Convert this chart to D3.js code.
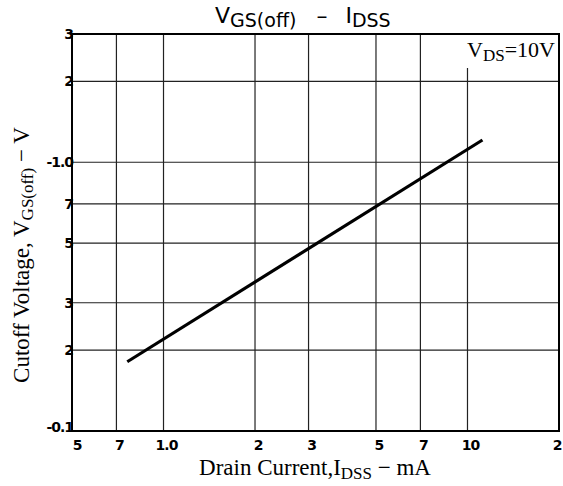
<!DOCTYPE html>
<html>
<head>
<meta charset="utf-8">
<script src="https://cdn.jsdelivr.net/npm/d3@7"></script>
<style>
  body { margin: 0; background: #fff; }
</style>
</head>
<body>
<div id="chart"></div>
<script>
// data
var xTicks = [0.5, 0.7, 1, 2, 3, 5, 7, 10, 20];
var xTickLabels = ["5", "7", "1.0", "2", "3", "5", "7", "10", "2"];
var yTicks = [0.1, 0.2, 0.3, 0.5, 0.7, 1, 2, 3];
var yTickLabels = ["-0.1", "2", "3", "5", "7", "-1.0", "2", "3"];
var idss = [0.76, 11.2];      // mA
var vgsOff = [0.181, 1.21];   // V

var width = 563, height = 486;
var pLeft = 72, pRight = 559, pTop = 34, pBottom = 431;

var svg = d3.select("#chart").append("svg")
    .attr("width", width)
    .attr("height", height);

var x = d3.scaleLog().domain([0.5, 20]).range([pLeft, pRight]);
var y = d3.scaleLog().domain([0.1, 3]).range([pBottom, pTop]);

// grid
svg.selectAll(".vgrid")
    .data(xTicks.slice(1, -1))
    .enter().append("line")
    .attr("x1", function(d) { return x(d); })
    .attr("x2", function(d) { return x(d); })
    .attr("y1", pTop).attr("y2", pBottom)
    .attr("stroke", "#222").attr("stroke-width", 1.2);

svg.selectAll(".hgrid")
    .data(yTicks.slice(1, -1))
    .enter().append("line")
    .attr("y1", function(d) { return y(d); })
    .attr("y2", function(d) { return y(d); })
    .attr("x1", pLeft).attr("x2", pRight)
    .attr("stroke", "#222").attr("stroke-width", 1.2);

// white box behind the condition label
svg.append("rect")
    .attr("x", 452).attr("y", pTop + 1)
    .attr("width", pRight - 453).attr("height", 33)
    .attr("fill", "#fff");

// frame
svg.append("rect")
    .attr("x", pLeft).attr("y", pTop)
    .attr("width", pRight - pLeft).attr("height", pBottom - pTop)
    .attr("fill", "none").attr("stroke", "#000").attr("stroke-width", 2);

// curve
svg.append("path")
    .datum(d3.zip(idss, vgsOff))
    .attr("d", d3.line()
        .x(function(d) { return x(d[0]); })
        .y(function(d) { return y(d[1]); }))
    .attr("stroke", "#000").attr("stroke-width", 3.2).attr("fill", "none");

// tick labels
svg.selectAll(".xlab")
    .data(xTicks)
    .enter().append("text")
    .attr("x", function(d, i) { return x(d) + (i == 0 ? 5 : i == xTicks.length - 1 ? -2 : 3); })
    .attr("y", 450)
    .attr("text-anchor", "middle")
    .attr("font-family", "DejaVu Sans, sans-serif")
    .attr("font-size", "14px")
    .attr("font-weight", "bold")
    .attr("letter-spacing", "-1px")
    .attr("fill", "#000")
    .text(function(d, i) { return xTickLabels[i]; });

svg.selectAll(".ylab")
    .data(yTicks)
    .enter().append("text")
    .attr("x", pLeft + 1)
    .attr("y", function(d, i) { return y(d) + (i == 0 ? 1 : 5); })
    .attr("text-anchor", "end")
    .attr("font-family", "DejaVu Sans, sans-serif")
    .attr("font-size", "14px")
    .attr("font-weight", "bold")
    .attr("letter-spacing", "-1px")
    .attr("fill", "#000")
    .text(function(d, i) { return yTickLabels[i]; });

// title
var title = svg.append("text")
    .attr("x", 215).attr("y", 23)
    .attr("font-family", "DejaVu Sans, sans-serif")
    .attr("font-size", "22px")
    .attr("fill", "#000");
title.append("tspan").text("V");
title.append("tspan").attr("dy", 4).attr("font-size", "19px").text("GS(off)");
title.append("tspan").attr("dy", -4).attr("dx", 20).text("\u2013");
title.append("tspan").attr("dx", 18).text("I");
title.append("tspan").attr("dy", 4).attr("font-size", "19px").text("DSS");

// condition
var cond = svg.append("text")
    .attr("x", 555).attr("y", 57)
    .attr("text-anchor", "end")
    .attr("font-family", "Liberation Serif, serif")
    .attr("font-size", "22px")
    .attr("fill", "#000");
cond.append("tspan").text("V");
cond.append("tspan").attr("dy", 4).attr("font-size", "17px").text("DS");
cond.append("tspan").attr("dy", -4).text("=10V");

// axis titles
var xt = svg.append("text")
    .attr("x", 315).attr("y", 475)
    .attr("text-anchor", "middle")
    .attr("font-family", "Liberation Serif, serif")
    .attr("font-size", "23px")
    .attr("fill", "#000");
xt.append("tspan").text("Drain Current,I");
xt.append("tspan").attr("dy", 4).attr("font-size", "17px").text("DSS");
xt.append("tspan").attr("dy", -4).text(" \u2212 mA");

var yt = svg.append("text")
    .attr("transform", "translate(29,255) rotate(-90)")
    .attr("text-anchor", "middle")
    .attr("font-family", "Liberation Serif, serif")
    .attr("font-size", "23px")
    .attr("fill", "#000");
yt.append("tspan").text("Cutoff Voltage, V");
yt.append("tspan").attr("dy", 4).attr("font-size", "17px").text("GS(off)");
yt.append("tspan").attr("dy", -4).text(" \u2212 V");
</script>
</body>
</html>
